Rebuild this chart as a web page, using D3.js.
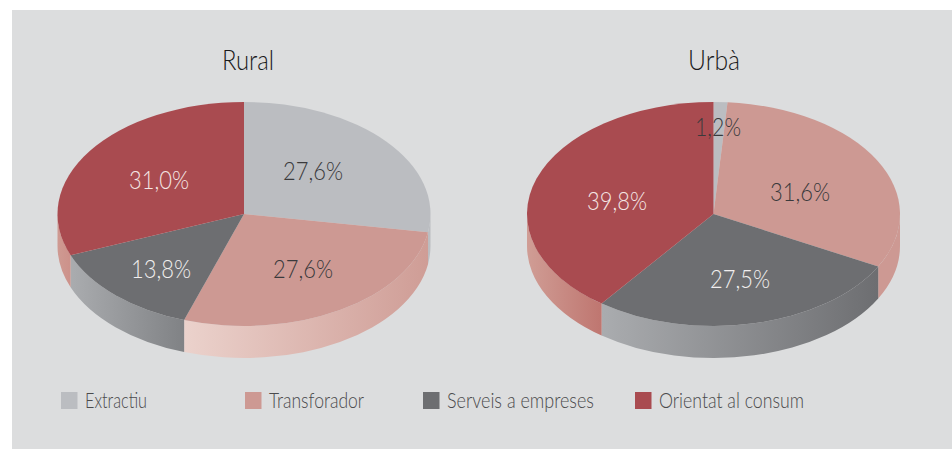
<!DOCTYPE html>
<html>
<head>
<meta charset="utf-8">
<script src="https://cdn.jsdelivr.net/npm/d3@7"></script>
<style>
  html, body { margin: 0; padding: 0; background: #fff; }
  svg { display: block; }
  text { font-family: Lato, "Open Sans", sans-serif; font-weight: 300; }
</style>
</head>
<body>
<div id="chart"></div>
<script>
/* Data */
var categories = ["Extractiu", "Transforador", "Serveis a empreses", "Orientat al consum"];
var ruralValues = [27.6, 27.6, 13.8, 31.0];
var urbaValues = [1.2, 31.6, 27.5, 39.8];
var pieTitles = ["Rural", "Urbà"];

/* Colours */
var topColors = ["#bbbdc1", "#cd9993", "#6d6e71", "#a94b50"];
var labelColors = ["#3a3a3c", "#3a3a3c", "#f1eeee", "#f5e6e4"];
var ruralWallColors = [["#bbbdc1", "#bbbdc1"], ["#ebd2cc", "#cf9d96"], ["#aaacaf", "#808285"], ["#cf9a92", "#cc918a"]];
var urbaWallColors = [["#bbbdc1", "#bbbdc1"], ["#cd9993", "#cd9993"], ["#aaacaf", "#6d6e71"], ["#d09d95", "#bf7670"]];

/* Layout */
var width = 952, height = 449,
    rx = 186.5, ry = 112, depth = 32, cy = 214,
    ruralX = 244, urbaX = 713.5,
    k = ry / rx;

/* Hand placed label centres, same as in the original */
var ruralLabelPos = [[313, 171], [303, 269], [161, 269], [159, 180]];
var urbaLabelPos = [[718, 127], [800, 192], [740, 279], [617, 201]];
var titleCenterX = [248, 714];
var legendSwatchX = [61, 245, 423, 635];
var legendTextWidth = [62, 95, 147, 145];

var svg = d3.select("#chart").append("svg").attr("width", width).attr("height", height);
var defs = svg.append("defs");

svg.append("rect")
    .attr("x", 12).attr("y", 10)
    .attr("width", width - 12).attr("height", height - 10)
    .attr("fill", "#dcddde");

/* Main program */
drawPie(ruralX, ruralValues, ruralWallColors, ruralLabelPos, 0, "r");
drawPie(urbaX, urbaValues, urbaWallColors, urbaLabelPos, 1, "u");
drawLegend();

function drawPie(cx, values, wallColors, labelPos, titleIndex, id) {
    var pie = d3.pie().sort(null)(values);
    var arc = d3.arc().innerRadius(0).outerRadius(rx);

    var g = svg.append("g")
        .attr("transform", "translate(" + cx + "," + cy + ") scale(1," + k + ")");

    /* Side wall of each slice, only the front half is visible */
    pie.forEach(function(d, i) {
        var a0 = Math.max(d.startAngle, Math.PI / 2);
        var a1 = Math.min(d.endAngle, Math.PI * 3 / 2);
        if (a1 <= a0) return;

        var x0 = rx * Math.sin(a0), x1 = rx * Math.sin(a1);
        var grad = defs.append("linearGradient")
            .attr("id", "wall-" + id + i)
            .attr("gradientUnits", "userSpaceOnUse")
            .attr("x1", Math.min(x0, x1)).attr("x2", Math.max(x0, x1))
            .attr("y1", 0).attr("y2", 0);
        grad.append("stop").attr("offset", 0).attr("stop-color", wallColors[i][0]);
        grad.append("stop").attr("offset", 1).attr("stop-color", wallColors[i][1]);

        var p = d3.path();
        var dy = depth / k;
        p.arc(0, 0, rx, a0 - Math.PI / 2, a1 - Math.PI / 2);
        p.arc(0, dy, rx, a1 - Math.PI / 2, a0 - Math.PI / 2, true);
        p.closePath();

        g.append("path")
            .attr("d", p.toString())
            .attr("fill", "url(#wall-" + id + i + ")");
    });

    /* Top of the pie */
    g.selectAll(".slice")
        .data(pie)
        .enter().append("path")
        .attr("class", "slice")
        .attr("d", arc)
        .attr("fill", function(d, i) { return topColors[i]; });

    /* Percent labels */
    svg.append("g").selectAll("text")
        .data(pie)
        .enter().append("text")
        .attr("x", function(d, i) { return labelPos[i][0]; })
        .attr("y", function(d, i) { return labelPos[i][1]; })
        .attr("dy", "0.35em")
        .attr("text-anchor", "middle")
        .attr("font-size", 26)
        .attr("textLength", function(d) { return d.value < 10 ? 46 : 60; })
        .attr("lengthAdjust", "spacingAndGlyphs")
        .attr("fill", function(d, i) { return labelColors[i]; })
        .text(function(d) { return d.value.toFixed(1).replace(".", ",") + "%"; });

    svg.append("text")
        .attr("x", titleCenterX[titleIndex])
        .attr("y", 70)
        .attr("text-anchor", "middle")
        .attr("font-size", 27)
        .attr("font-weight", 400)
        .attr("textLength", 52)
        .attr("lengthAdjust", "spacingAndGlyphs")
        .attr("fill", "#1a1a1b")
        .text(pieTitles[titleIndex]);
}

/* Legend along the bottom */
function drawLegend() {
    var leg = svg.append("g").selectAll("g")
        .data(categories)
        .enter().append("g")
        .attr("transform", function(d, i) { return "translate(" + legendSwatchX[i] + ",392)"; });

    leg.append("rect")
        .attr("width", 16.5)
        .attr("height", 17)
        .attr("fill", function(d, i) { return topColors[i]; });

    leg.append("text")
        .attr("x", 24)
        .attr("y", 16)
        .attr("font-size", 22)
        .attr("textLength", function(d, i) { return legendTextWidth[i]; })
        .attr("lengthAdjust", "spacingAndGlyphs")
        .attr("fill", "#4a4a4c")
        .text(function(d) { return d; });
}
</script>
</body>
</html>
